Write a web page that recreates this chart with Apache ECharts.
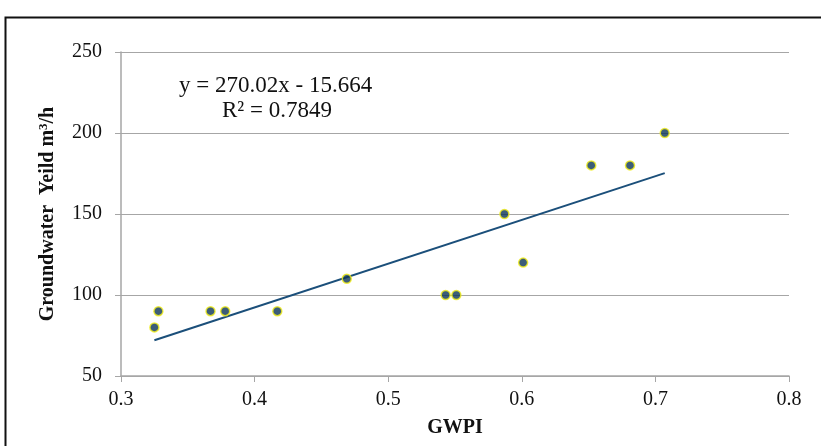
<!DOCTYPE html>
<html><head><meta charset="utf-8">
<script src="https://cdn.jsdelivr.net/npm/echarts@6/dist/echarts.min.js"></script>
<style>html,body{margin:0;padding:0;background:#fff}#c{width:821px;height:446px}</style>
</head><body><div id="c"></div>
<script>
const gwpi = [0.325, 0.328, 0.367, 0.378, 0.417, 0.469, 0.543, 0.551, 0.587, 0.601, 0.652, 0.681, 0.707];
const yieldVals = [80, 90, 90, 90, 90, 110, 100, 100, 150, 120, 180, 180, 200];
const slope = 270.02;
const intercept = -15.664;
const r2 = 0.7849;
const xTicks = [0.3, 0.4, 0.5, 0.6, 0.7, 0.8];
const yTicks = [50, 100, 150, 200, 250];

const points = gwpi.map((x, i) => [x, yieldVals[i]]);
const xmin = Math.min(...gwpi), xmax = Math.max(...gwpi);
const trend = [[xmin, slope * xmin + intercept], [xmax, slope * xmax + intercept]];

const chart = echarts.init(document.getElementById('c'));
const serif = '"Liberation Serif", "Times New Roman", serif';
chart.setOption({
  animation: false,
  graphic: [{
    type: 'rect', shape: {x: 5.5, y: 17.5, width: 900, height: 500},
    style: {fill: 'none', stroke: '#111', lineWidth: 2}, z: 100
  }, {
    type: 'text', left: 179, top: 74,
    style: {text: 'y = 270.02x - 15.664', font: '23px ' + serif, fill: '#111'}
  }, {
    type: 'text', left: 222, top: 99,
    style: {text: 'R² = ' + r2, font: '23px ' + serif, fill: '#111'}
  }],
  grid: {left: 121, right: 32, top: 52, bottom: 70},
  xAxis: {
    type: 'value', min: 0.3, max: 0.8, interval: 0.1,
    name: 'GWPI', nameLocation: 'middle', nameGap: 42,
    nameTextStyle: {fontFamily: serif, fontWeight: 'bold', fontSize: 20, color: '#111'},
    axisLine: {show: true, lineStyle: {color: '#a6a6a6', width: 1.5}},
    axisTick: {show: true, length: 6, lineStyle: {color: '#a6a6a6'}},
    splitLine: {show: false},
    axisLabel: {fontFamily: serif, fontSize: 20, color: '#111', margin: 14,
      formatter: v => xTicks.find(t => Math.abs(t - v) < 1e-9)?.toFixed(1) ?? ''}
  },
  yAxis: {
    type: 'value', min: 50, max: 250, interval: 50,
    name: 'Groundwater  Yeild m{sup|3}/h', nameLocation: 'middle', nameGap: 62,
    nameTextStyle: {fontFamily: serif, fontWeight: 'bold', fontSize: 20, color: '#111',
      rich: {sup: {fontFamily: serif, fontWeight: 'bold', fontSize: 13, color: '#111', verticalAlign: 'top', padding: [0, 0, 9, 0]}}},
    axisLine: {show: true, lineStyle: {color: '#a6a6a6', width: 1.5}},
    axisTick: {show: true, length: 6, lineStyle: {color: '#a6a6a6'}},
    splitLine: {show: true, lineStyle: {color: '#a6a6a6', width: 1.2}},
    axisLabel: {fontFamily: serif, fontSize: 20, color: '#111', margin: 19,
      formatter: v => yTicks.includes(v) ? String(v) : ''}
  },
  series: [{
    type: 'line', data: trend, showSymbol: false, symbol: 'none',
    lineStyle: {color: '#1b4f7a', width: 2}, z: 2
  }, {
    type: 'scatter', data: points, symbol: 'circle', symbolSize: 9,
    itemStyle: {color: '#0b3556', borderColor: '#f2ef1a', borderWidth: 1.5}, z: 3
  }]
});
</script></body></html>
